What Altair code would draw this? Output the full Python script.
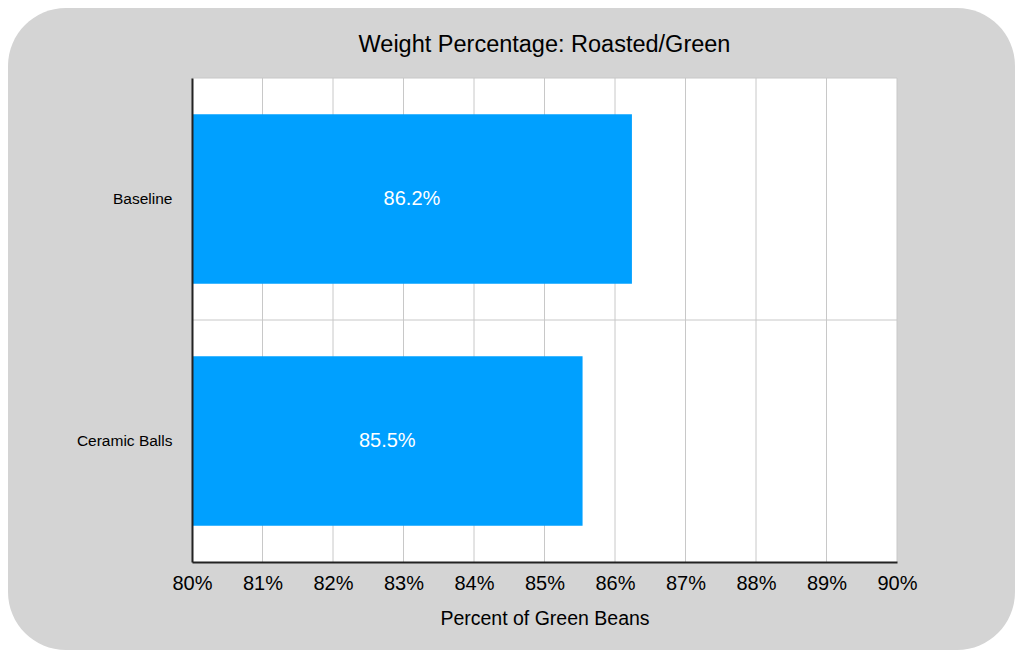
import altair as alt
import pandas as pd

categories = ["Baseline", "Ceramic Balls"]
values = [0.8624, 0.8554]
tick_values = [0.80, 0.81, 0.82, 0.83, 0.84, 0.85, 0.86, 0.87, 0.88, 0.89, 0.90]

df = pd.DataFrame({"category": categories, "value": values})
ticks_df = pd.DataFrame({"t": tick_values})
cat_df = pd.DataFrame({"category": categories})

FONT = "Liberation Sans"
W, H = 705, 484
PL, PT, PR, PB = 184, 70, 118, 88
GRID = "#c8c8c8"

xscale = alt.Scale(domain=[0.80, 0.90], nice=False, zero=False)
yscale = alt.Scale(domain=categories, paddingInner=0, paddingOuter=0)

bg = alt.Chart(pd.DataFrame({"a": [0]})).mark_rect(
    color="#d4d4d4", cornerRadius=58
).encode(
    x=alt.value(-PL), x2=alt.value(W + PR),
    y=alt.value(-PT), y2=alt.value(H + PB),
)

plot_bg = alt.Chart(pd.DataFrame({"a": [0]})).mark_rect(color="white").encode(
    x=alt.value(0), x2=alt.value(W), y=alt.value(0), y2=alt.value(H)
)

vgrid = alt.Chart(ticks_df).mark_rule(color=GRID, strokeWidth=1).encode(
    x=alt.X("t:Q", scale=xscale),
    y=alt.value(0), y2=alt.value(H),
)

hgrid = alt.Chart(cat_df).mark_rule(color=GRID, strokeWidth=1).encode(
    y=alt.Y("category:N", scale=yscale, sort=categories, bandPosition=0),
    x=alt.value(0), x2=alt.value(W),
)

base = alt.Chart(df)

bars = base.mark_bar(color="#00a0ff", height={"band": 0.7}).encode(
    x=alt.X("value:Q", scale=xscale,
            axis=alt.Axis(values=tick_values, format=".0%", title="Percent of Green Beans",
                          grid=False, zindex=2, labelFlush=False,
                          ticks=False, tickSize=0, labelPadding=27,
                          labelBaseline="alphabetic", labelFontSize=20,
                          labelColor="black", labelFont=FONT,
                          titleFontSize=19.5, titleFont=FONT, titleColor="black",
                          titleFontWeight="normal", titleBaseline="alphabetic", titleY=62,
                          domainColor="#222222", domainWidth=2)),
    x2=alt.datum(0.80),
    y=alt.Y("category:N", scale=yscale, sort=categories,
            axis=alt.Axis(title=None, grid=False, zindex=2,
                          ticks=False, tickSize=0, labelPadding=20,
                          labelFontSize=15.5, labelColor="black", labelFont=FONT,
                          domainColor="#222222", domainWidth=2)),
)

labels = base.transform_calculate(
    mid="(0.80 + datum.value) / 2",
    label="format(datum.value, '.1%')",
).mark_text(color="white", fontSize=20, font=FONT, baseline="middle").encode(
    x=alt.X("mid:Q", scale=xscale),
    y=alt.Y("category:N", scale=yscale, sort=categories),
    text="label:N",
)

chart = alt.layer(bg, plot_bg, vgrid, hgrid, bars, labels).properties(
    width=W, height=H,
    autosize=alt.AutoSizeParams(type="none"),
    padding={"left": PL, "top": PT, "right": PR, "bottom": PB},
    title=alt.TitleParams("Weight Percentage: Roasted/Green", fontSize=23.5, font=FONT,
                          fontWeight="normal", color="black", offset=-48, anchor="middle"),
    background="white",
).configure_view(stroke=None)

chart.save("out.html", embed_options={"renderer": "svg", "actions": False})
